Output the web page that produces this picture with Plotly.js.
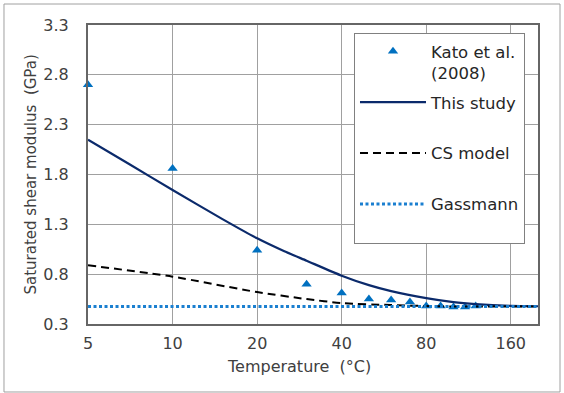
<!DOCTYPE html>
<html>
<head>
<meta charset="utf-8">
<script src="https://cdn.plot.ly/plotly-3.0.1.min.js"></script>
<style>
html,body{margin:0;padding:0;background:#fff;}
#chart{width:564px;height:393px;}
</style>
</head>
<body>
<div id="chart"></div>
<script>
// Data
var katoTemp = [5, 10, 20, 30, 40, 50, 60, 70, 80, 90, 100, 110, 120];
var katoG    = [2.70, 1.86, 1.04, 0.70, 0.61, 0.55, 0.54, 0.52, 0.48, 0.48, 0.47, 0.47, 0.48];

var studyTemp = [5, 7, 10, 15, 20, 25, 30, 40, 50, 60, 80, 100, 120, 160, 200];
var studyG    = [2.15, 1.905, 1.645, 1.355, 1.16, 1.03, 0.935, 0.785, 0.69, 0.63, 0.56, 0.52, 0.50, 0.482, 0.478];

var csTemp = [5, 10, 20, 30, 40, 60, 80, 100, 200];
var csG    = [0.89, 0.775, 0.62, 0.55, 0.51, 0.49, 0.48, 0.475, 0.475];

var gassTemp = [5, 200];
var gassG    = [0.475, 0.475];

var xTicks = [5, 10, 20, 40, 80, 160];
var xTickText = ['5', '10', '20', '40', '80', '160'];
var yTicks = [0.3, 0.8, 1.3, 1.8, 2.3, 2.8, 3.3];

var FONT = 'DejaVu Sans, Arial, sans-serif';
var TXT = '#404040';

var traces = [
  {x: katoTemp, y: katoG, type: 'scatter', mode: 'markers', name: 'Kato et al.<br>(2008)',
   marker: {symbol: 'triangle-up', size: 9, color: '#0070C0'}, cliponaxis: false,
   legendgroup: 'a'},
  {x: studyTemp, y: studyG, type: 'scatter', mode: 'lines', name: 'This study<br> ',
   line: {color: '#0B2A6B', width: 2.2, shape: 'spline', smoothing: 0.6}, legendgroup: 'b'},
  {x: csTemp, y: csG, type: 'scatter', mode: 'lines', name: 'CS model<br> ',
   line: {color: '#000000', width: 2, dash: '8px,5px', shape: 'spline', smoothing: 0.6}, legendgroup: 'c'},
  {x: gassTemp, y: gassG, type: 'scatter', mode: 'lines', name: 'Gassmann<br> ',
   line: {color: '#1A7FD0', width: 3, dash: '3px,2.5px'}, legendgroup: 'd'}
];

var layout = {
  width: 564, height: 393,
  margin: {l: 88, r: 26, t: 25, b: 69},
  paper_bgcolor: '#ffffff', plot_bgcolor: '#ffffff',
  font: {family: FONT, size: 16, color: TXT},
  showlegend: true,
  xaxis: {
    type: 'log', range: [Math.log10(4.999), Math.log10(200)],
    tickvals: xTicks, ticktext: xTickText,
    showgrid: true, gridcolor: '#a0a0a0', gridwidth: 1,
    showline: true, mirror: true, linecolor: '#666666', linewidth: 2,
    ticks: '', ticklabelstandoff: 4,
    tickfont: {family: FONT, size: 16, color: TXT},
    zeroline: false, fixedrange: true
  },
  yaxis: {
    range: [0.3, 3.3], tickvals: yTicks, tickformat: '.1f',
    showgrid: true, gridcolor: '#a0a0a0', gridwidth: 1,
    showline: true, mirror: true, linecolor: '#666666', linewidth: 2,
    ticks: '', ticklabelstandoff: 14,
    tickfont: {family: FONT, size: 16, color: TXT},
    zeroline: false, fixedrange: true
  },
  legend: {
    x: 0.5911, y: 0.9732, xanchor: 'left', yanchor: 'top',
    bgcolor: '#ffffff', bordercolor: '#808080', borderwidth: 1,
    font: {family: FONT, size: 16.5, color: '#262626'},
    itemwidth: 66, valign: 'top', traceorder: 'grouped', tracegroupgap: 5
  },
  annotations: [
    {text: 'Saturated shear modulus\u00a0 (GPa)', xref: 'paper', yref: 'paper',
     x: -0.1267, y: 0.5, xanchor: 'center', yanchor: 'middle', textangle: -90,
     showarrow: false, font: {family: FONT, size: 15, color: TXT}},
    {text: 'Temperature\u00a0 (°C)', xref: 'paper', yref: 'paper',
     x: 0.469, y: -0.1438, xanchor: 'center', yanchor: 'middle',
     showarrow: false, font: {family: FONT, size: 16, color: TXT}}
  ],
  shapes: [
    {type: 'rect', xref: 'paper', yref: 'paper', x0: -0.18667, x1: 1.04889, y0: -0.2274, y1: 1.0702,
     line: {color: '#a0a0a0', width: 1}, fillcolor: 'rgba(0,0,0,0)', layer: 'below'}
  ]
};

Plotly.newPlot('chart', traces, layout, {displayModeBar: false, staticPlot: true});
</script>
</body>
</html>
